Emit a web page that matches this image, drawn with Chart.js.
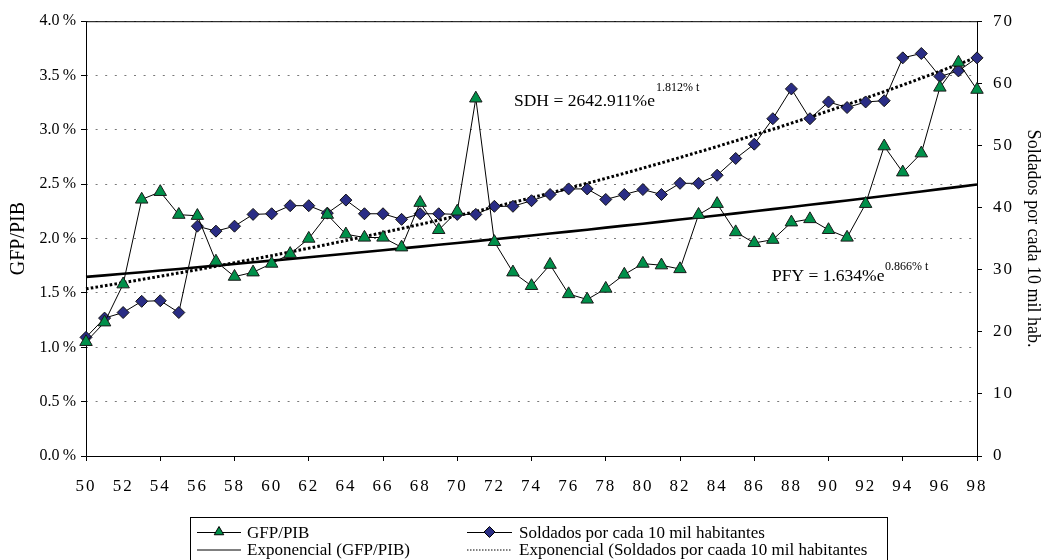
<!DOCTYPE html>
<html>
<head>
<meta charset="utf-8">
<script src="https://cdn.jsdelivr.net/npm/chart.js@4/dist/chart.umd.min.js"></script>
<style>
  html, body { margin: 0; padding: 0; background: #fff; }
  #c { display: block; }
</style>
</head>
<body>
<canvas id="c" width="1042" height="560"></canvas>
<script>
// ---- Data ----
const years = ['50','51','52','53','54','55','56','57','58','59',
               '60','61','62','63','64','65','66','67','68','69',
               '70','71','72','73','74','75','76','77','78','79',
               '80','81','82','83','84','85','86','87','88','89',
               '90','91','92','93','94','95','96','97','98'];
const xTickLabels = ['50','52','54','56','58','60','62','64','66','68','70','72',
                     '74','76','78','80','82','84','86','88','90','92','94','96','98'];

// GFP/PIB (%)
const gfpPib = [1.05, 1.23, 1.58, 2.36, 2.43, 2.22, 2.21, 1.79, 1.65, 1.69,
                1.77, 1.86, 2.00, 2.22, 2.04, 2.01, 2.01, 1.92, 2.33, 2.08,
                2.25, 3.29, 1.97, 1.69, 1.565, 1.76, 1.49, 1.44, 1.54, 1.67,
                1.77, 1.755, 1.72, 2.22, 2.32, 2.06, 1.96, 1.99, 2.15, 2.18,
                2.08, 2.01, 2.32, 2.85, 2.61, 2.785, 3.39, 3.62, 3.37];

// Soldados por cada 10 mil habitantes
const soldados = [19.1, 22.2, 23.1, 24.9, 25.0, 23.1, 37.0, 36.2, 37.0, 38.9,
                  39.0, 40.3, 40.3, 39.1, 41.2, 39.0, 39.0, 38.1, 39.0, 39.0,
                  38.9, 38.9, 40.2, 40.2, 41.1, 42.1, 43.0, 43.0, 41.3, 42.1,
                  42.9, 42.1, 43.9, 43.9, 45.2, 47.9, 50.2, 54.3, 59.1, 54.3,
                  57.0, 56.1, 57.0, 57.2, 64.1, 64.8, 61.1, 62.0, 64.1];

// Exponencial (GFP/PIB) trendline values as drawn (PFY = 1.634%e^(0.866% t))
const expGfp = [1.648, 1.662, 1.677, 1.691, 1.706, 1.721, 1.736, 1.751, 1.766, 1.782,
                1.797, 1.813, 1.829, 1.845, 1.861, 1.877, 1.893, 1.910, 1.926, 1.943,
                1.960, 1.977, 1.994, 2.011, 2.029, 2.047, 2.064, 2.082, 2.101, 2.119,
                2.137, 2.156, 2.175, 2.194, 2.213, 2.232, 2.251, 2.271, 2.291, 2.311,
                2.331, 2.351, 2.371, 2.392, 2.413, 2.434, 2.455, 2.476, 2.498];

// Exponencial (Soldados) trendline values as drawn (SDH = 2642.911%e^(1.812% t))
const expSold = [26.91, 27.40, 27.91, 28.42, 28.94, 29.46, 30.00, 30.55, 31.11, 31.68,
                 32.26, 32.85, 33.45, 34.06, 34.68, 35.32, 35.96, 36.62, 37.29, 37.97,
                 38.67, 39.37, 40.09, 40.83, 41.57, 42.33, 43.11, 43.90, 44.70, 45.51,
                 46.35, 47.19, 48.06, 48.94, 49.83, 50.74, 51.67, 52.61, 53.58, 54.56,
                 55.56, 56.57, 57.61, 58.66, 59.73, 60.83, 61.94, 63.07, 64.22];

const GREEN = '#00904A';
const NAVY = '#2A2D85';
const SERIF = '"Liberation Serif", "Times New Roman", serif';

// ---- Plugins ----
const decorPlugin = {
  id: 'decor',
  beforeDraw(chart) {
    ['x', 'y1'].forEach(id => {
      const s = chart.scales[id];
      if (s && !s._lsWrapped) {
        const orig = s.drawLabels;
        s.drawLabels = function (area) {
          const c = this.ctx;
          const prev = c.letterSpacing;
          c.letterSpacing = '2px';
          orig.call(this, area);
          c.letterSpacing = prev || '0px';
        };
        s._lsWrapped = true;
      }
    });
  },
  beforeDatasetsDraw(chart) {
    const { ctx, chartArea: a } = chart;
    ctx.save();
    ctx.strokeStyle = '#000';
    ctx.lineWidth = 1;
    ctx.beginPath();
    ctx.moveTo(a.left + 0.5, a.top + 0.5);
    ctx.lineTo(a.right + 0.5, a.top + 0.5);
    ctx.moveTo(a.left + 0.5, a.top);
    ctx.lineTo(a.left + 0.5, a.bottom + 0.5);
    ctx.lineTo(a.right + 0.5, a.bottom + 0.5);
    ctx.moveTo(a.right + 0.5, a.top);
    ctx.lineTo(a.right + 0.5, a.bottom + 0.5);
    ctx.stroke();
    ctx.restore();
  },
  afterDraw(chart) {
    const ctx = chart.ctx;
    ctx.save();
    ctx.letterSpacing = '0px';
    ctx.fillStyle = '#000';
    ctx.textBaseline = 'alphabetic';
    ctx.textAlign = 'left';

    // Trendline equations
    ctx.font = '17.5px ' + SERIF;
    ctx.fillText('SDH = 2642.911%e', 514, 106);
    ctx.fillText('PFY = 1.634%e', 772, 281);
    ctx.font = '12px ' + SERIF;
    ctx.fillText('1.812% t', 656, 91);
    ctx.fillText('0.866% t', 885, 270);

    // Legend
    const L = { x: 190.5, y: 517.5, w: 697, h: 60 };
    ctx.strokeStyle = '#000';
    ctx.lineWidth = 1;
    ctx.strokeRect(L.x, L.y, L.w, L.h);

    const rows = [532, 549.5];
    const cols = [{ x0: 197, x1: 241, tx: 247 }, { x0: 467, x1: 512, tx: 519 }];
    const items = [
      { col: 0, row: 0, text: 'GFP/PIB', dash: [], marker: 'tri' },
      { col: 1, row: 0, text: 'Soldados por cada 10 mil habitantes', dash: [], marker: 'dia' },
      { col: 0, row: 1, text: 'Exponencial (GFP/PIB)', dash: [], marker: null },
      { col: 1, row: 1, text: 'Exponencial (Soldados por caada 10 mil habitantes', dash: [1.5, 1.5], marker: null }
    ];
    items.forEach(it => {
      const c = cols[it.col];
      const y = rows[it.row];
      ctx.save();
      ctx.strokeStyle = '#000';
      ctx.lineWidth = 1;
      ctx.setLineDash(it.dash);
      ctx.beginPath();
      ctx.moveTo(c.x0, y + 0.5);
      ctx.lineTo(c.x1, y + 0.5);
      ctx.stroke();
      ctx.restore();
      const mx = (c.x0 + c.x1) / 2;
      if (it.marker === 'tri') {
        const r = 5.5;
        ctx.beginPath();
        ctx.moveTo(mx, y - r);
        ctx.lineTo(mx + r * 0.866, y + r * 0.5);
        ctx.lineTo(mx - r * 0.866, y + r * 0.5);
        ctx.closePath();
        ctx.fillStyle = GREEN; ctx.fill();
        ctx.strokeStyle = '#000'; ctx.stroke();
      } else if (it.marker === 'dia') {
        const r = 5.5;
        ctx.beginPath();
        ctx.moveTo(mx - r, y);
        ctx.lineTo(mx, y - r);
        ctx.lineTo(mx + r, y);
        ctx.lineTo(mx, y + r);
        ctx.closePath();
        ctx.fillStyle = NAVY; ctx.fill();
        ctx.strokeStyle = '#000'; ctx.stroke();
      }
      ctx.fillStyle = '#000';
      ctx.font = '17px ' + SERIF;
      ctx.textBaseline = 'alphabetic';
      ctx.fillText(it.text, c.tx, y + 5.6);
    });
    ctx.restore();
  }
};

// ---- Chart ----
new Chart(document.getElementById('c'), {
  type: 'line',
  data: {
    labels: years,
    datasets: [
      {
        label: 'GFP/PIB',
        data: gfpPib,
        yAxisID: 'y',
        borderColor: '#000',
        borderWidth: 1,
        backgroundColor: GREEN,
        pointStyle: 'triangle',
        pointRadius: 7.2,
        pointBackgroundColor: GREEN,
        pointBorderColor: '#1a1a1a',
        pointBorderWidth: 1,
        tension: 0,
        clip: false,
        order: 1
      },
      {
        label: 'Soldados por cada 10 mil habitantes',
        data: soldados,
        yAxisID: 'y1',
        borderColor: '#000',
        borderWidth: 1,
        backgroundColor: NAVY,
        pointStyle: 'rectRot',
        pointRadius: 6,
        pointBackgroundColor: NAVY,
        pointBorderColor: '#111',
        pointBorderWidth: 1,
        tension: 0,
        clip: false,
        order: 2
      },
      {
        label: 'Exponencial (GFP/PIB)',
        data: expGfp,
        yAxisID: 'y',
        borderColor: '#000',
        borderWidth: 2.6,
        pointRadius: 0,
        tension: 0,
        order: 3
      },
      {
        label: 'Exponencial (Soldados por caada 10 mil habitantes',
        data: expSold,
        yAxisID: 'y1',
        borderColor: '#000',
        borderWidth: 3,
        borderDash: [2.6, 2.2],
        borderCapStyle: 'butt',
        pointRadius: 0,
        tension: 0,
        order: 4
      }
    ]
  },
  options: {
    responsive: false,
    animation: false,
    events: [],
    layout: { padding: { top: 19, left: 0, right: 0, bottom: 0 }, autoPadding: false },
    plugins: {
      legend: { display: false },
      tooltip: { enabled: false },
      title: { display: false }
    },
    scales: {
      x: {
        type: 'category',
        offset: false,
        afterFit(s) { s.height = 104; },
        grid: {
          drawOnChartArea: false,
          drawTicks: true,
          tickLength: 5,
          tickColor: (c) => (c.index % 4 === 0 ? '#000' : 'rgba(0,0,0,0)'),
          tickWidth: 1
        },
        border: { display: false },
        ticks: {
          autoSkip: false,
          maxRotation: 0,
          minRotation: 0,
          padding: 15,
          color: '#000',
          font: { family: SERIF, size: 17 },
          callback: (v, i) => (i % 2 === 0 ? xTickLabels[i / 2] : '')
        }
      },
      y: {
        position: 'left',
        min: 0,
        max: 4,
        afterFit(s) { s.width = 86; },
        ticks: {
          stepSize: 0.5,
          padding: 5,
          color: '#000',
          font: { family: SERIF, size: 16 },
          callback: (v) => v.toFixed(1) + '\u2009%'
        },
        grid: {
          color: '#7a7a7a',
          lineWidth: 1,
          drawTicks: true,
          tickLength: 5,
          tickColor: '#000',
          tickBorderDash: [],
          tickWidth: 1
        },
        border: { display: false, dash: [2, 7.6] },
        title: {
          display: true,
          text: 'GFP/PIB',
          color: '#000',
          font: { family: SERIF, size: 20, lineHeight: 1 },
          padding: { top: 9, bottom: 0 }
        }
      },
      y1: {
        position: 'right',
        min: 0,
        max: 70,
        afterFit(s) { s.width = 65; },
        ticks: {
          stepSize: 10,
          padding: 11,
          color: '#000',
          font: { family: SERIF, size: 17 }
        },
        grid: {
          drawOnChartArea: false,
          drawTicks: true,
          tickLength: 5,
          tickColor: '#000',
          tickWidth: 1
        },
        border: { display: false },
        title: {
          display: true,
          text: 'Soldados por cada 10 mil hab.',
          color: '#000',
          font: { family: SERIF, size: 18, lineHeight: 1 },
          padding: { top: 0, bottom: 0 }
        }
      }
    }
  },
  plugins: [decorPlugin]
});
</script>
</body>
</html>
